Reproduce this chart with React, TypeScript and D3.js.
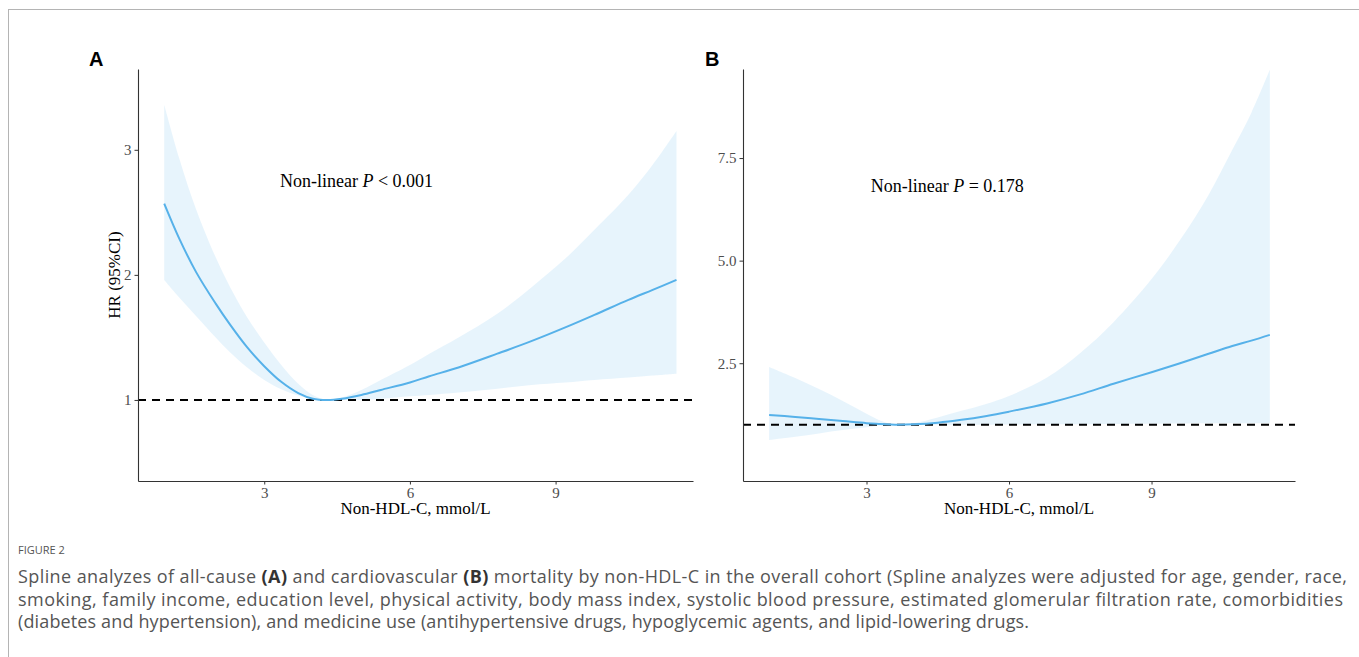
import { useEffect, useRef } from "react";
import * as d3 from "d3";

// Panel A - all-cause mortality (HR and 95% CI)
const xA = [0.94, 1.25, 1.6, 2.0, 2.3, 2.65, 3.0, 3.35, 3.7, 4.0, 4.3, 4.6, 5.0, 5.4, 6.0, 6.4, 7.0, 7.8, 8.5, 9.2, 9.8, 10.5, 11.0, 11.49];
const hrA = [2.57, 2.29, 2.02, 1.77, 1.6, 1.42, 1.27, 1.145, 1.055, 1.01, 1.0, 1.01, 1.04, 1.08, 1.14, 1.19, 1.26, 1.37, 1.47, 1.58, 1.68, 1.8, 1.88, 1.96];
const lowerA = [1.96, 1.82, 1.67, 1.5, 1.38, 1.26, 1.16, 1.085, 1.035, 1.008, 1.0, 1.0, 1.0, 1.01, 1.03, 1.04, 1.06, 1.09, 1.12, 1.14, 1.16, 1.18, 1.195, 1.21];
const upperA = [3.36, 2.93, 2.52, 2.14, 1.9, 1.66, 1.46, 1.28, 1.13, 1.04, 1.0, 1.02, 1.08, 1.16, 1.28, 1.37, 1.5, 1.69, 1.9, 2.13, 2.36, 2.64, 2.88, 3.15];

// Panel B - cardiovascular mortality
const xB = [0.95, 1.5, 2.0, 2.5, 3.0, 3.3, 3.6, 4.0, 4.5, 5.0, 5.5, 6.0, 6.8, 7.5, 8.2, 9.0, 9.6, 10.2, 10.7, 11.1, 11.49];
const hrB = [1.24, 1.19, 1.14, 1.09, 1.04, 1.02, 1.0, 1.01, 1.05, 1.12, 1.21, 1.32, 1.52, 1.74, 2.0, 2.28, 2.5, 2.73, 2.92, 3.05, 3.19];
const lowerB = [0.63, 0.71, 0.79, 0.87, 0.94, 0.98, 1.0, 1.0, 1.0, 1.0, 1.0, 1.005, 1.01, 1.015, 1.02, 1.025, 1.03, 1.035, 1.04, 1.04, 1.04];
const upperB = [2.41, 2.14, 1.87, 1.58, 1.27, 1.1, 1.0, 1.04, 1.18, 1.34, 1.5, 1.7, 2.15, 2.75, 3.5, 4.55, 5.5, 6.6, 7.7, 8.6, 9.65];

const xTicks = [3, 6, 9];
const yTicksA = [1, 2, 3];
const yTicksB = [2.5, 5.0, 7.5];

const captionTitle = "FIGURE 2";
const captionLine1 = [
  ["Spline analyzes of all-cause ", false],
  ["(A)", true],
  [" and cardiovascular ", false],
  ["(B)", true],
  [" mortality by non-HDL-C in the overall cohort (Spline analyzes were adjusted for age, gender, race,", false],
];
const captionRest = [
  "smoking, family income, education level, physical activity, body mass index, systolic blood pressure, estimated glomerular filtration rate, comorbidities",
  "(diabetes and hypertension), and medicine use (antihypertensive drugs, hypoglycemic agents, and lipid-lowering drugs.",
];
// measured widths of the caption lines in the figure
const captionWidths = [1329, 1325, 1011];

const panels = [
  {
    tag: "A", tagX: 89,
    x: xA, hr: hrA, lo: lowerA, hi: upperA,
    xDomain: [0.4, 11.83], xRange: [138, 693],
    yDomain: [0.352, 3.646], yTicks: yTicksA, yFormat: d3.format("d"),
    pText: "< 0.001", pAt: [4.9, 2.75],
    yTitle: "HR (95%CI)",
  },
  {
    tag: "B", tagX: 705,
    x: xB, hr: hrB, lo: lowerB, hi: upperB,
    xDomain: [0.4, 12.02], xRange: [743, 1295],
    yDomain: [-0.37, 9.67], yTicks: yTicksB, yFormat: d3.format(".1f"),
    pText: "= 0.178", pAt: [4.7, 6.82],
    yTitle: null,
  },
];

const serif = "'Liberation Serif', 'Times New Roman', serif";
const lineColor = "#56B1E9";

function App() {
  const ref = useRef(null);

  useEffect(() => {
    const svg = d3.select(ref.current);
    svg.selectAll("*").remove();

    // figure frame (top and left rule)
    svg.append("line").attr("x1", 9).attr("x2", 1359).attr("y1", 9.5).attr("y2", 9.5)
      .attr("stroke", "#b4b4b4").attr("stroke-width", 1);
    svg.append("line").attr("x1", 8.5).attr("x2", 8.5).attr("y1", 9).attr("y2", 657)
      .attr("stroke", "#b4b4b4").attr("stroke-width", 1);

    const top = 69, bottom = 481;
    const smooth = d3.curveCatmullRom.alpha(0.5);

    panels.forEach((p) => {
      const x = d3.scaleLinear().domain(p.xDomain).range(p.xRange);
      const y = d3.scaleLinear().domain(p.yDomain).range([bottom, top]);
      const g = svg.append("g");
      const pts = p.x.map((v, i) => ({ x: v, hr: p.hr[i], lo: p.lo[i], hi: p.hi[i] }));

      // confidence band
      g.append("path")
        .datum(pts)
        .attr("fill", lineColor)
        .attr("fill-opacity", 0.14)
        .attr("d", d3.area().x((d) => x(d.x)).y0((d) => y(d.lo)).y1((d) => y(d.hi)).curve(smooth));

      // reference line at HR = 1
      g.append("line")
        .attr("x1", p.xRange[0]).attr("x2", p.xRange[1])
        .attr("y1", y(1)).attr("y2", y(1))
        .attr("stroke", "#000").attr("stroke-width", 2)
        .attr("stroke-dasharray", "8,6");

      // fitted spline
      g.append("path")
        .datum(pts)
        .attr("fill", "none")
        .attr("stroke", lineColor)
        .attr("stroke-width", 2)
        .attr("d", d3.line().x((d) => x(d.x)).y((d) => y(d.hr)).curve(smooth));

      // axes
      const xAxis = g.append("g")
        .attr("transform", `translate(0, ${bottom})`)
        .call(d3.axisBottom(x).tickValues(xTicks).tickSize(3.5).tickPadding(3).tickSizeOuter(0));
      const yAxis = g.append("g")
        .attr("transform", `translate(${p.xRange[0]}, 0)`)
        .call(d3.axisLeft(y).tickValues(p.yTicks).tickFormat(p.yFormat).tickSize(3.5).tickPadding(3).tickSizeOuter(0));
      [xAxis, yAxis].forEach((ax) => {
        ax.select(".domain").attr("stroke", "#333").attr("stroke-width", 1.1);
        ax.selectAll(".tick line").attr("stroke", "#333");
        ax.selectAll(".tick text")
          .attr("fill", "#4d4d4d")
          .style("font-family", serif)
          .style("font-size", "15px");
      });

      // x axis title
      g.append("text")
        .attr("x", (p.xRange[0] + p.xRange[1]) / 2)
        .attr("y", 514)
        .attr("text-anchor", "middle")
        .style("font-family", serif)
        .style("font-size", "17px")
        .text("Non-HDL-C, mmol/L");

      if (p.yTitle) {
        g.append("text")
          .attr("transform", `translate(120, ${(top + bottom) / 2}) rotate(-90)`)
          .attr("text-anchor", "middle")
          .style("font-family", serif)
          .style("font-size", "17px")
          .text(p.yTitle);
      }

      // non-linearity annotation
      const t = g.append("text")
        .attr("x", x(p.pAt[0]))
        .attr("y", y(p.pAt[1]))
        .attr("text-anchor", "middle")
        .attr("dy", "0.35em")
        .style("font-family", serif)
        .style("font-size", "18px");
      t.append("tspan").text("Non-linear ");
      t.append("tspan").style("font-style", "italic").text("P");
      t.append("tspan").text(" " + p.pText);

      // panel tag
      g.append("text")
        .attr("x", p.tagX)
        .attr("y", 66)
        .style("font-family", "'Liberation Sans', Arial, sans-serif")
        .style("font-weight", "bold")
        .style("font-size", "20px")
        .text(p.tag);
    });

    // caption
    const capFont = "'Open Sans', Lato, sans-serif";
    svg.append("text")
      .attr("x", 18).attr("y", 554)
      .attr("fill", "#555")
      .style("font-family", capFont)
      .style("font-size", "11px")
      .text(captionTitle);

    const l1 = svg.append("text")
      .attr("x", 18).attr("y", 583)
      .attr("fill", "#555")
      .attr("textLength", captionWidths[0])
      .style("font-family", capFont)
      .style("font-size", "18px");
    captionLine1.forEach(([s, b]) => {
      l1.append("tspan")
        .attr("fill", b ? "#333" : "#555")
        .style("font-weight", b ? "bold" : "normal")
        .text(s);
    });
    captionRest.forEach((s, i) => {
      svg.append("text")
        .attr("x", 18).attr("y", 605.5 + i * 22.5)
        .attr("fill", "#555")
        .attr("textLength", captionWidths[i + 1])
        .style("font-family", capFont)
        .style("font-size", "18px")
        .text(s);
    });
  }, []);

  return (
    <svg
      ref={ref}
      width={1359}
      height={657}
      style={{ position: "absolute", left: 0, top: 0, background: "#fff" }}
    />
  );
}

export default App;
